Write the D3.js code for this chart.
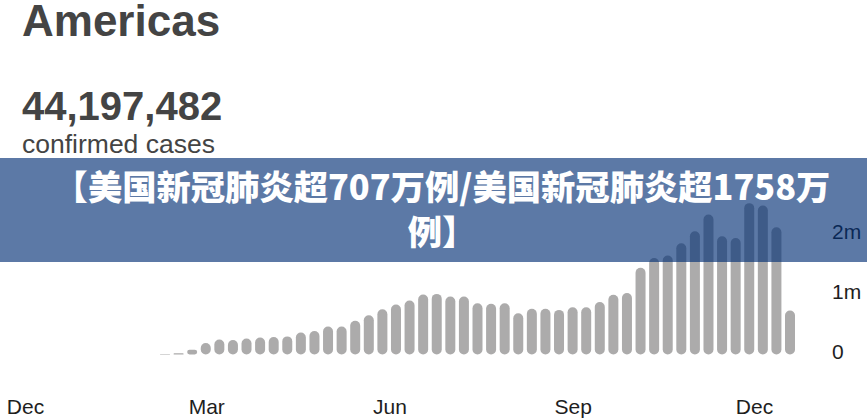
<!DOCTYPE html>
<html>
<head>
<meta charset="utf-8">
<script src="https://cdn.jsdelivr.net/npm/d3@7"></script>
<style>
  html, body { margin: 0; padding: 0; background: #fff; }
  svg { display: block; }
</style>
</head>
<body>
<svg id="chart" width="867" height="420"></svg>
<script>
// ---- data ----
const regionName = "Americas";
const totalCases = "44,197,482";
const totalLabel = "confirmed cases";
const bannerLines = ["【美国新冠肺炎超707万例/美国新冠肺炎超1758万", "例】"];

const weeks = [
  "2020-02-03","2020-02-10","2020-02-17","2020-02-24","2020-03-02","2020-03-09",
  "2020-03-16","2020-03-23","2020-03-30","2020-04-06","2020-04-13","2020-04-20",
  "2020-04-27","2020-05-04","2020-05-11","2020-05-18","2020-05-25","2020-06-01",
  "2020-06-08","2020-06-15","2020-06-22","2020-06-29","2020-07-06","2020-07-13",
  "2020-07-20","2020-07-27","2020-08-03","2020-08-10","2020-08-17","2020-08-24",
  "2020-08-31","2020-09-07","2020-09-14","2020-09-21","2020-09-28","2020-10-05",
  "2020-10-12","2020-10-19","2020-10-26","2020-11-02","2020-11-09","2020-11-16",
  "2020-11-23","2020-11-30","2020-12-07","2020-12-14","2020-12-21"
];
// weekly confirmed cases, millions
const weeklyCases = [
  0.01, 0.02, 0.08, 0.19, 0.25, 0.24, 0.265, 0.28, 0.29, 0.30,
  0.365, 0.39, 0.465, 0.465, 0.56, 0.65, 0.75, 0.83, 0.895, 0.995,
  1.005, 0.96, 0.96, 0.85, 0.84, 0.85, 0.685, 0.757, 0.757, 0.74,
  0.785, 0.785, 0.87, 0.99, 1.02, 1.44, 1.60, 1.64, 1.845, 2.045,
  2.32, 1.96, 1.93, 2.51, 2.47, 2.11, 0.73
];
const yTicks = [0, 1, 2];
const yTickLabels = ["0", "1m", "2m"];
const monthTicks = ["2019-12-01", "2020-03-01", "2020-06-01", "2020-09-01", "2020-12-01"];
const monthLabels = ["Dec", "Mar", "Jun", "Sep", "Dec"];

// ---- drawing ----
const svg = d3.select("#chart");

const x = d3.scaleBand()
  .domain(weeks)
  .range([158.2, 796.8])
  .paddingInner(0.264)
  .paddingOuter(0.132);

const y = d3.scaleLinear().domain([0, 1]).range([354.5, 294.2]);

const xTime = d3.scaleTime()
  .domain([new Date(2019, 11, 1), new Date(2020, 11, 1)])
  .range([25, 754]);

// header text
svg.append("text")
  .attr("x", 22).attr("y", 36)
  .attr("font-family", "'Liberation Sans', Arial, sans-serif")
  .attr("font-weight", "bold").attr("font-size", 44)
  .attr("fill", "#444")
  .text(regionName);

svg.append("text")
  .attr("x", 22).attr("y", 120)
  .attr("font-family", "'Liberation Sans', Arial, sans-serif")
  .attr("font-weight", "bold").attr("font-size", 40)
  .attr("fill", "#444")
  .text(totalCases);

svg.append("text")
  .attr("x", 22).attr("y", 152.5)
  .attr("font-family", "'Liberation Sans', Arial, sans-serif")
  .attr("font-size", 26.5)
  .attr("fill", "#444")
  .text(totalLabel);

// bars
const bw = x.bandwidth();
svg.append("g")
  .selectAll("rect")
  .data(weeks.map((w, i) => ({ week: w, value: weeklyCases[i] })))
  .join("rect")
  .attr("x", d => x(d.week))
  .attr("y", d => y(d.value))
  .attr("width", bw)
  .attr("height", d => y(0) - y(d.value))
  .attr("rx", d => Math.min(bw / 2, (y(0) - y(d.value)) / 2))
  .attr("ry", d => Math.min(bw / 2, (y(0) - y(d.value)) / 2))
  .attr("fill", "#acabab");

// y axis labels (right)
const yAxis = d3.axisRight(y)
  .tickValues(yTicks)
  .tickFormat((d, i) => yTickLabels[i])
  .tickSize(0)
  .tickPadding(0);
const gy = svg.append("g").attr("transform", "translate(832,0)").call(yAxis);
gy.select(".domain").remove();
gy.selectAll("text")
  .attr("font-family", "'Liberation Sans', Arial, sans-serif")
  .attr("font-size", 21)
  .attr("fill", "#1e1e1e")
  .attr("dy", "0.2em");

// x axis month labels
const xAxis = d3.axisBottom(xTime)
  .tickValues(monthTicks.map(s => d3.timeParse("%Y-%m-%d")(s)))
  .tickFormat((d, i) => monthLabels[i])
  .tickSize(0)
  .tickPadding(0);
const gx = svg.append("g").attr("transform", "translate(0,398)").call(xAxis);
gx.select(".domain").remove();
gx.selectAll("text")
  .attr("font-family", "'Liberation Sans', Arial, sans-serif")
  .attr("font-size", 21)
  .attr("fill", "#1e1e1e")
  .attr("dy", "0.74em");

// translucent banner overlay
svg.append("rect")
  .attr("x", 0).attr("y", 158)
  .attr("width", 867).attr("height", 104)
  .attr("fill", "rgb(0,45,115)")
  .attr("fill-opacity", 0.64);

const bt = svg.append("text")
  .attr("text-anchor", "middle")
  .attr("font-family", "'Noto Sans CJK SC', 'Noto Sans', sans-serif")
  .attr("font-weight", 900)
  .attr("font-size", 34.3)
  .attr("fill", "#fff");
bannerLines.forEach((line, i) => {
  bt.append("tspan").attr("x", 442).attr("y", 200 + i * 45).text(line);
});
</script>
</body>
</html>
